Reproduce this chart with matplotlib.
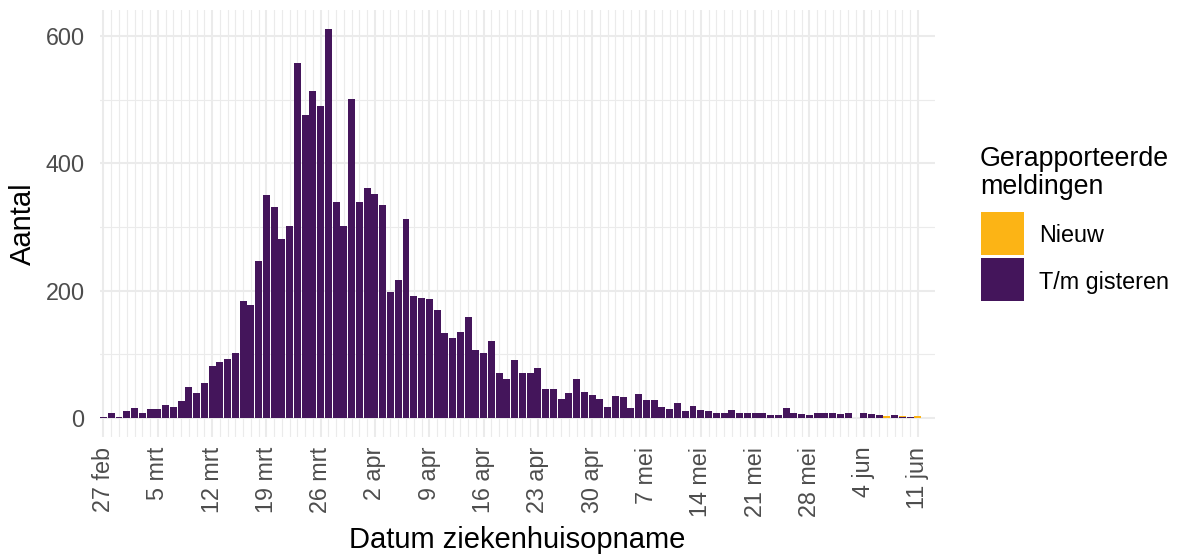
import numpy as np
import pandas as pd
import matplotlib
matplotlib.use("Agg")
import matplotlib.pyplot as plt
import matplotlib.dates as mdates
from matplotlib.patches import Rectangle

plt.rcParams["font.family"] = ["Liberation Sans", "DejaVu Sans"]

# =======================
# data
# =======================
first_day = "2020-02-27"

# already reported up to yesterday
tm_gisteren = [
    1, 8, 1, 10, 15, 7, 13, 13, 20, 17, 26, 48, 39, 54, 81, 87, 92, 102,
    184, 178, 246, 350, 332, 281, 301, 558, 477, 514, 490, 611, 340, 301,
    502, 340, 362, 352, 335, 197, 216, 313, 192, 189, 186, 170, 133, 126,
    134, 159, 106, 101, 121, 71, 60, 90, 71, 71, 78, 45, 45, 30, 38, 60,
    40, 35, 29, 16, 34, 32, 15, 37, 27, 27, 16, 13, 23, 10, 19, 12, 10, 8,
    7, 12, 8, 8, 7, 8, 4, 4, 15, 7, 5, 4, 7, 8, 7, 5, 8, 0, 7, 5, 4, 0, 4,
    1, 1, 0,
]
# new today
nieuw = [0] * 90 + [1, 0, 0, 0, 0, 0, 0, 0, 0, 0, 0, 3, 0, 2, 0, 2]

tick_labels = ["27 feb", "5 mrt", "12 mrt", "19 mrt", "26 mrt", "2 apr", "9 apr",
               "16 apr", "23 apr", "30 apr", "7 mei", "14 mei", "21 mei",
               "28 mei", "4 jun", "11 jun"]

legend_title = "Gerapporteerde\nmeldingen"
legend_labels = ["Nieuw", "T/m gisteren"]

dates = pd.date_range(first_day, periods=len(tm_gisteren), freq="D")

col_old = "#44155b"
col_new = "#fcb415"
grid_col = "#ebebeb"

# =======================
# figure
# =======================
W, H = 1177, 556
fig = plt.figure(figsize=(W / 100, H / 100), dpi=100)
ax = fig.add_axes([100 / W, (H - 437) / H, 835 / W, 427 / H])

x = mdates.date2num(dates)
old = np.array(tm_gisteren)
new = np.array(nieuw)
ax.bar(x, old, width=0.9, color=col_old, zorder=3)
ax.bar(x, new, bottom=old, width=0.9, color=col_new, zorder=3)

x0 = x[0]
ax.set_xlim(x0 - 0.45, x0 + 107.2)
ax.set_ylim(-30.5, 641.5)

# weekly major, daily minor
ax.set_xticks(x[::7][:len(tick_labels)])
ax.set_xticklabels(tick_labels, rotation=90, ha="center", va="top")
ax.set_xticks(x, minor=True)
ax.set_yticks([0, 200, 400, 600])
ax.set_yticks([100, 300, 500], minor=True)

ax.grid(which="major", color=grid_col, linewidth=1.5, zorder=0)
ax.grid(which="minor", color=grid_col, linewidth=0.8, zorder=0)
ax.set_axisbelow(True)

for s in ax.spines.values():
    s.set_visible(False)
ax.tick_params(which="both", length=0)
ax.tick_params(axis="y", labelsize=16.8, labelcolor="#4d4d4d", pad=11)
ax.tick_params(axis="x", labelsize=16.8, labelcolor="#4d4d4d", pad=7)

ax.set_xlabel("Datum ziekenhuisopname", fontsize=21, labelpad=7)
ax.set_ylabel("Aantal", fontsize=21, labelpad=6)

# =======================
# legend, drawn by hand (pixel positions from the reference)
# =======================
def px(xp, yp):
    return xp / W, 1 - yp / H

fig.text(*px(980, 166), legend_title.split("\n")[0], fontsize=19.3, va="baseline")
fig.text(*px(980, 194), legend_title.split("\n")[1], fontsize=19.3, va="baseline")
for i, (lab, c) in enumerate(zip(legend_labels, [col_new, col_old])):
    top = 212 + i * 46
    fig.add_artist(Rectangle(px(981, top + 43), 43 / W, 43 / H,
                             transform=fig.transFigure, color=c, linewidth=0))
    fig.text(*px(1039, top + 21.5), lab, fontsize=16.8, va="center_baseline")

fig.savefig("out.png", dpi=100)
